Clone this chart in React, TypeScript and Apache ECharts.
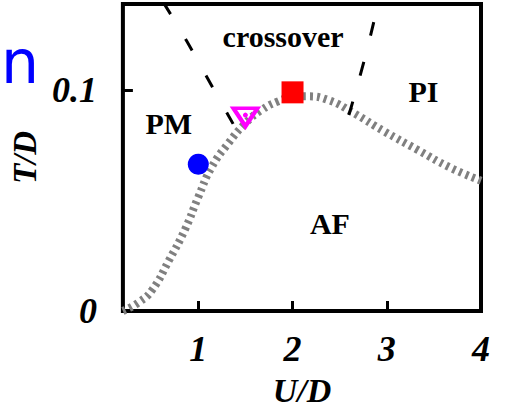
import React, { useEffect, useRef } from "react";
import * as echarts from "echarts";

// Axis ticks / labels
const xLabelValues = [1, 2, 3, 4];
const xTickValues = [1, 2, 3];
const yLabelValues = [0, 0.1];
const yTickValues = [0.1];

// Phase boundary (gray dotted)
const boundaryU = [0.2, 0.37, 0.51, 0.69, 0.86, 1.0, 1.14, 1.32, 1.5, 1.67, 1.85, 2.0, 2.15, 2.38, 2.65, 2.97, 3.33, 3.67, 4.0];
const boundaryT = [0.0, 0.004, 0.0095, 0.023, 0.037, 0.0516, 0.065, 0.076, 0.085, 0.091, 0.095, 0.0968, 0.0972, 0.0955, 0.0896, 0.0814, 0.0729, 0.065, 0.059];

// Crossover lines (black dashed)
const crossLeftU = [0.634, 0.877, 1.098, 1.383];
const crossLeftT = [0.1394, 0.1222, 0.1054, 0.0837];
const crossRightU = [2.862, 2.756, 2.598];
const crossRightT = [0.1308, 0.1127, 0.0887];

// Markers
const circlePoint = [1.0, 0.0665];
const squarePoint = [2.0, 0.099];
const trianglePoint = [1.5, 0.0877];
const triangleDot = [1.5, 0.0887];

// Region labels
const regionNames = ["crossover", "PI", "PM", "AF"];
const regionU = [1.9, 3.39, 0.686, 2.397];
const regionT = [0.1245, 0.0995, 0.085, 0.0394];

const zip = (a: number[], b: number[]) => a.map((v, i) => [v, b[i]]);

export default function App() {
  const ref = useRef<HTMLDivElement>(null);
  useEffect(() => {
    if (!ref.current) return;
    const chart = echarts.init(ref.current, null, { renderer: "svg" });
    const serif = "Liberation Serif";
    const tickFont = {
      fontFamily: serif,
      fontWeight: "bold" as const,
      fontStyle: "italic" as const,
      fontSize: 36,
      color: "#000",
    };
    chart.setOption({
      animation: false,
      backgroundColor: "#fff",
      grid: {
        left: 121,
        top: 4,
        width: 360,
        height: 307,
        show: true,
        borderColor: "#000",
        borderWidth: 4,
        backgroundColor: "transparent",
      },
      xAxis: {
        type: "value",
        min: 0.2,
        max: 4,
        splitLine: { show: false },
        axisLine: { show: false },
        axisTick: {
          show: true,
          inside: true,
          length: 10,
          customValues: xTickValues,
          lineStyle: { color: "#000", width: 3 },
        },
        axisLabel: {
          ...tickFont,
          margin: 20,
          customValues: xLabelValues,
          formatter: (v: number) => String(v),
        },
        name: "U/D",
        nameLocation: "middle",
        nameGap: 62,
        nameTextStyle: { ...tickFont, fontSize: 34 },
      },
      yAxis: {
        type: "value",
        min: 0,
        max: 0.139,
        splitLine: { show: false },
        axisLine: { show: false },
        axisTick: {
          show: true,
          inside: true,
          length: 10,
          customValues: yTickValues,
          lineStyle: { color: "#000", width: 3 },
        },
        axisLabel: {
          ...tickFont,
          margin: 26,
          customValues: yLabelValues,
          formatter: (v: number) => (v === 0 ? "0" : String(v)),
        },
        name: "T/D",
        nameLocation: "middle",
        nameGap: 72,
        nameTextStyle: { ...tickFont, fontSize: 33 },
      },
      graphic: [
        {
          type: "text",
          x: 1,
          y: 62,
          style: {
            text: "n",
            fill: "#0000ff",
            font: "60px 'DejaVu Sans'",
            textAlign: "left",
            textVerticalAlign: "middle",
          },
        },
      ],
      series: [
        {
          type: "line",
          data: zip(boundaryU, boundaryT),
          smooth: true,
          symbol: "none",
          clip: false,
          lineStyle: { color: "#808080", width: 8, type: [3, 4], cap: "butt" },
          z: 2,
        },
        {
          type: "line",
          data: zip(crossLeftU, crossLeftT),
          smooth: true,
          symbol: "none",
          lineStyle: { color: "#000", width: 3, type: [13, 29] },
          z: 3,
        },
        {
          type: "line",
          data: zip(crossRightU, crossRightT),
          smooth: true,
          symbol: "none",
          lineStyle: { color: "#000", width: 3, type: [14, 27] },
          z: 3,
        },
        {
          type: "scatter",
          data: [circlePoint],
          symbol: "circle",
          symbolSize: 21,
          itemStyle: { color: "#0000ff", opacity: 1 },
          z: 4,
        },
        {
          type: "scatter",
          data: [squarePoint],
          symbol: "rect",
          symbolSize: 22,
          itemStyle: { color: "#ff0000", opacity: 1 },
          z: 4,
        },
        {
          type: "scatter",
          data: [trianglePoint],
          symbol: "triangle",
          symbolRotate: 180,
          symbolSize: [24, 18],
          itemStyle: { color: "rgba(0,0,0,0)", borderColor: "#ff00ff", borderWidth: 4, opacity: 1 },
          z: 4,
        },
        {
          type: "scatter",
          data: [triangleDot],
          symbol: "circle",
          symbolSize: 5,
          itemStyle: { color: "#ff00ff", opacity: 1 },
          z: 4,
        },
        {
          type: "scatter",
          data: regionNames.map((n, i) => ({ name: n, value: [regionU[i], regionT[i]] })),
          symbolSize: 0,
          itemStyle: { opacity: 1 },
          label: {
            show: true,
            position: "inside",
            formatter: (p: any) => p.name,
            fontFamily: serif,
            fontWeight: "bold",
            fontSize: 30,
            color: "#000",
            opacity: 1,
          },
          z: 5,
        },
      ],
    });
    return () => chart.dispose();
  }, []);
  return <div ref={ref} style={{ width: 508, height: 412, position: "absolute", left: 0, top: 0 }} />;
}
